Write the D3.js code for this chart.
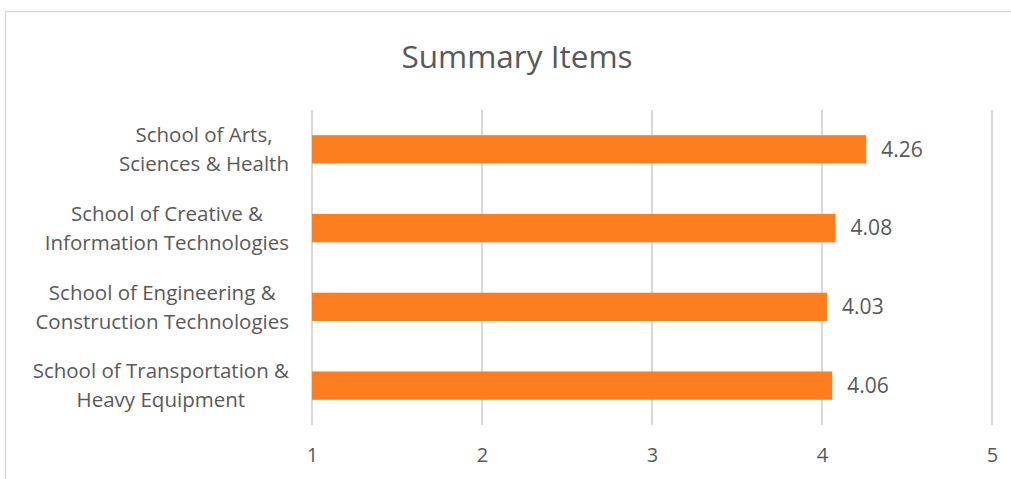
<!DOCTYPE html>
<html>
<head>
<meta charset="utf-8">
<script src="https://cdn.jsdelivr.net/npm/d3@7"></script>
<style>
body { margin: 0; background: #fff; }
text { font-family: "Open Sans", sans-serif; fill: #595959; }
</style>
</head>
<body>
<div class="chart"></div>
<script>
const schools = [
  ["School of Arts,", "Sciences & Health"],
  ["School of Creative &", "Information Technologies"],
  ["School of Engineering &", "Construction Technologies"],
  ["School of Transportation &", "Heavy Equipment"]
];
const scores = [4.26, 4.08, 4.03, 4.06];
const ticks = [1, 2, 3, 4, 5];

const data = schools.map((s, i) => ({label: s, value: scores[i], key: i}));

const W = 1011, H = 479;
const margin = ({top: 110, right: 19, bottom: 54, left: 312});

const svg = d3.select(".chart").append("svg").attr("width", W).attr("height", H);

// chart frame
svg.append("rect").attr("x", 5.5).attr("y", 11.5).attr("width", 1020).attr("height", 480)
  .attr("fill", "none").attr("stroke", "#d9d9d9").attr("stroke-width", 1.5);

svg.append("text").attr("x", 517).attr("y", 68).attr("text-anchor", "middle")
  .style("font-size", "31.5px").text("Summary Items");

const g = svg.append("g").attr("transform", `translate(${margin.left},${margin.top})`);

let xScale = d3.scaleLinear().domain([1, 5]).range([0, 680]);
let yScale = d3.scaleBand().domain(data.map(d => d.key)).range([0, 315]).paddingInner(0.64).paddingOuter(0.32);

// gridlines
g.selectAll(".grid").data(ticks).enter().append("line")
  .attr("x1", d => xScale(d)).attr("x2", d => xScale(d))
  .attr("y1", 0).attr("y2", 315)
  .attr("stroke", "#d9d9d9").attr("stroke-width", 2);

g.selectAll(".bar").data(data).enter().append("rect")
  .attr("x", xScale(1))
  .attr("y", d => yScale(d.key))
  .attr("width", d => xScale(d.value) - xScale(1))
  .attr("height", yScale.bandwidth())
  .attr("fill", "#fd7e1e");

g.selectAll(".val").data(data).enter().append("text")
  .attr("x", d => xScale(d.value) + 15)
  .attr("y", d => yScale(d.key) + yScale.bandwidth() / 2)
  .attr("dy", "0.35em")
  .style("font-size", "21px")
  .text(d => d.value.toFixed(2));

const xAxis = d3.axisBottom(xScale).tickValues(ticks).tickFormat(d3.format("d")).tickSize(0).tickPadding(23);
g.append("g").attr("transform", `translate(0,315)`).call(xAxis)
  .call(a => a.select(".domain").remove())
  .call(a => a.selectAll("text").style("font-size", "20px").style("font-family", "Open Sans").attr("fill", "#595959"));

// category labels: block right-aligned, lines centred within the block
const yAxis = d3.axisLeft(yScale).tickSize(0).tickFormat("");
const ya = g.append("g").call(yAxis);
ya.select(".domain").remove();
ya.selectAll(".tick").each(function(k) {
  const t = d3.select(this).append("text").attr("text-anchor", "middle")
    .style("font-size", "20.5px").attr("fill", "#595959");
  const spans = data[k].label.map((line, j) =>
    t.append("tspan").attr("y", (j - 0.5) * 29).attr("dy", "0.35em").text(line));
  const maxW = d3.max(spans, s => s.node().getComputedTextLength());
  spans.forEach(s => s.attr("x", -23 - maxW / 2));
});
</script>
</body>
</html>
